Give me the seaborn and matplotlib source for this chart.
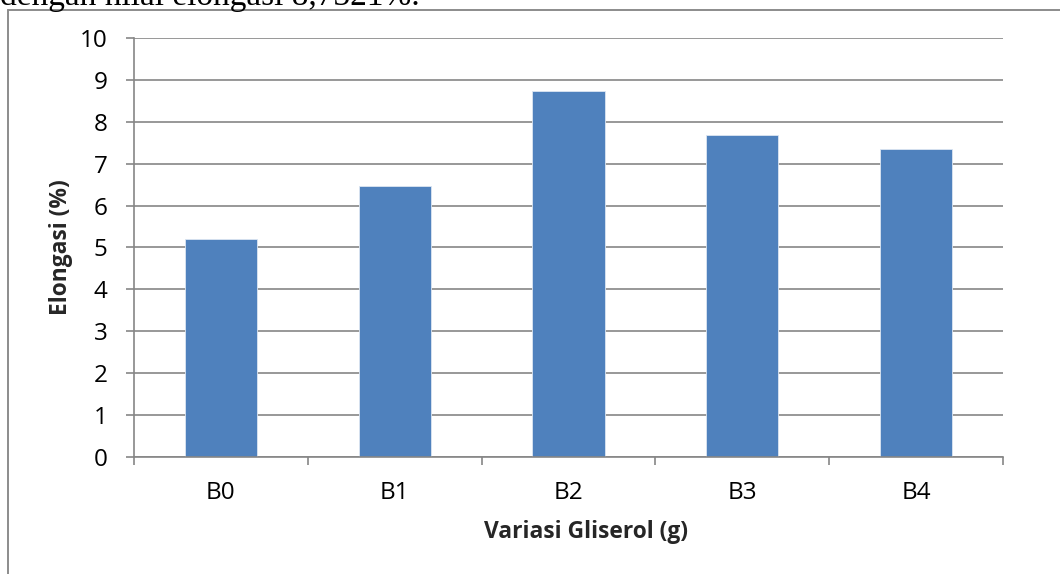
import matplotlib
matplotlib.use("Agg")
import matplotlib.pyplot as plt
import seaborn as sns
import pandas as pd
from matplotlib.lines import Line2D
from matplotlib.ticker import FixedLocator

categories = ["B0", "B1", "B2", "B3", "B4"]
elongasi = [5.20, 6.47, 8.73, 7.68, 7.35]
y_ticks = [0, 1, 2, 3, 4, 5, 6, 7, 8, 9, 10]

df = pd.DataFrame({"Variasi": categories, "Elongasi": elongasi})

sns.set_theme(style="white")
plt.rcParams["font.family"] = ["Open Sans", "DejaVu Sans"]

W, H = 1060, 574
fig = plt.figure(figsize=(W / 100, H / 100), dpi=100)
ax = fig.add_axes([134 / W, (H - 457) / H, (1003 - 134) / W, (457 - 38) / H])

sns.barplot(data=df, x="Variasi", y="Elongasi", color="#4F81BD", width=0.415,
            saturation=1, edgecolor="#DCE6F2", linewidth=0.6, ax=ax)

grid_c = "#868686"
ax.set_ylim(0, 10)
ax.set_yticks(y_ticks)
ax.set_yticklabels([str(t) for t in y_ticks], fontsize=17.5)
ax.yaxis.grid(True, color=grid_c, linewidth=1.2)
ax.xaxis.grid(False)
ax.set_axisbelow(True)

for s in ["top", "right"]:
    ax.spines[s].set_visible(False)
for s in ["left", "bottom"]:
    ax.spines[s].set_color(grid_c)
    ax.spines[s].set_linewidth(1.2)

ax.tick_params(axis="y", which="major", left=True, length=6, width=1.2, color=grid_c,
               pad=13, labelcolor="black")
ax.tick_params(axis="x", which="major", bottom=False, length=0, pad=17.5,
               labelsize=17.5, labelcolor="black")
ax.xaxis.set_minor_locator(FixedLocator([-0.5, 0.5, 1.5, 2.5, 3.5, 4.5]))
ax.tick_params(axis="x", which="minor", bottom=True, length=6, width=1.2, color=grid_c)
ax.set_xlim(-0.5, 4.5)

ax.set_xlabel("Variasi Gliserol (g)", fontsize=16.4, fontweight="bold", va="center")
ax.xaxis.set_label_coords((586 - 134) / 869, (457 - 532) / 419)
ax.set_ylabel("Elongasi (%)", fontsize=16.4, fontweight="bold", va="center")
ax.yaxis.set_label_coords((61 - 134) / 869, 0.5)

# outer frame (top and left edges visible)
fig.add_artist(Line2D([8 / W, 1.0], [1 - 10 / H, 1 - 10 / H], color="#8C8C8C", lw=1.4))
fig.add_artist(Line2D([8 / W, 8 / W], [0, 1 - 10 / H], color="#8C8C8C", lw=1.4))

# clipped sentence from the surrounding document
fig.text(0.0, 1 - 5 / H, "dengan nilai elongasi 8,7321%.", family=["Liberation Serif"],
         fontsize=24, va="baseline", ha="left", color="black")

fig.savefig("out.png", dpi=100)
